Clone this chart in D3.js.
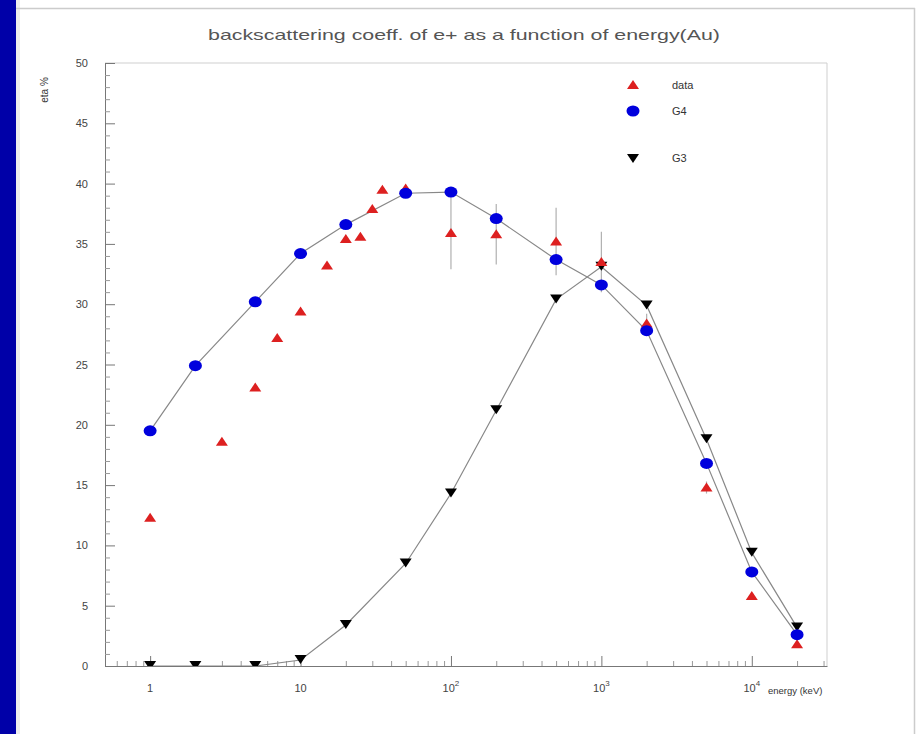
<!DOCTYPE html>
<html><head><meta charset="utf-8">
<script src="https://cdn.jsdelivr.net/npm/d3@7"></script>
<style>
body{margin:0;background:#fff;}
svg{display:block;font-family:"Liberation Sans",Arial,sans-serif;}
</style></head>
<body>
<svg id="c" width="923" height="734"></svg>
<script>
// ---- data ----
const title = "backscattering coeff. of e+ as a function of energy(Au)";
const yLabel = "eta %";
const xLabel = "energy (keV)";
const yTicks = [0,5,10,15,20,25,30,35,40,45,50];
const xTickValues = [1,10,100,1000,10000];
const xTickBase = ["1","10","10","10","10"];
const xTickExp = ["","","2","3","4"];

const dataE   = [1,3,5,7,10,15,20,25,30,35,50,100,200,500,1000,2000,5000,10000,20000];
const dataEta = [12.3,18.6,23.1,27.2,29.4,33.2,35.4,35.6,37.9,39.5,39.6,35.9,35.8,35.2,33.5,28.4,14.8,5.8,1.8];
const dataErr = [0,0,0,0,0,0,0,0,0,0,0,3.0,2.5,2.8,2.5,0.8,0.5,0,0];

const g4E   = [1,2,5,10,20,50,100,200,500,1000,2000,5000,10000,20000];
const g4Eta = [19.5,24.9,30.2,34.2,36.6,39.2,39.3,37.1,33.7,31.6,27.8,16.8,7.8,2.6];

const g3E   = [1,2,5,10,20,50,100,200,500,1000,2000,5000,10000,20000];
const g3Eta = [0,0,0,0.5,3.4,8.5,14.3,21.2,30.4,33.1,29.9,18.8,9.4,3.2];

const legendNames = ["data","G4","G3"];
const legendColors = ["#dd2020","#0000dd","#000000"];

// ---- layout ----
const svg = d3.select("#c");
const L=105, R=827, T=63, B=666;
const x = d3.scaleLog().domain([Math.pow(10,-0.3), Math.pow(10,4.5)]).range([L,R]);
const y = d3.scaleLinear().domain([0,50]).range([B,T]);

// page decoration
svg.append("rect").attr("x",0).attr("y",0).attr("width",16).attr("height",734).attr("fill","#0000a8");
svg.append("rect").attr("x",16).attr("y",0).attr("width",4).attr("height",734).attr("fill","#eeeeee");
svg.append("line").attr("x1",16).attr("x2",915).attr("y1",8.5).attr("y2",8.5).attr("stroke","#cccccc").attr("stroke-width",1.5);
svg.append("line").attr("x1",914.5).attr("x2",914.5).attr("y1",8).attr("y2",734).attr("stroke","#cccccc").attr("stroke-width",1.5);

// title
svg.append("text").attr("x",464).attr("y",40).attr("text-anchor","middle")
  .attr("font-size",14.5).attr("fill","#555").attr("textLength",512).attr("lengthAdjust","spacingAndGlyphs").text(title);

// frame
svg.append("line").attr("x1",L).attr("x2",R).attr("y1",T).attr("y2",T).attr("stroke","#cfcfcf");
svg.append("line").attr("x1",R).attr("x2",R).attr("y1",T).attr("y2",B).attr("stroke","#cfcfcf");

// y axis
const yMinor = d3.range(0,51,1);
const gy = svg.append("g").attr("transform",`translate(${L},0)`)
  .call(d3.axisRight(y).tickValues(yTicks).tickSize(10).tickSizeOuter(0).tickFormat(""));
gy.selectAll("path,line").attr("stroke","#777");
svg.append("g").attr("transform",`translate(${L},0)`)
  .call(d3.axisRight(y).tickValues(yMinor.filter(v=>v%5)).tickSize(5).tickFormat(""))
  .call(g=>g.select("path").remove())
  .selectAll("line").attr("stroke","#999");
svg.append("g").selectAll("text").data(yTicks).join("text")
  .attr("x",88).attr("y",d=>y(d)+4).attr("text-anchor","end")
  .attr("font-size",11).attr("fill","#444").text(d=>d);

// x axis
const gx = svg.append("g").attr("transform",`translate(0,${B})`)
  .call(d3.axisTop(x).tickValues(xTickValues).tickSize(10).tickSizeOuter(0).tickFormat(""));
gx.selectAll("path,line").attr("stroke","#777");
const xMinor = [];
[0.1,1,10,100,1000,10000].forEach(b=>{for(let k=2;k<=9;k++){const v=b*k; if(v>=x.domain()[0]&&v<=x.domain()[1]) xMinor.push(v);}});
svg.append("g").attr("transform",`translate(0,${B})`)
  .call(d3.axisTop(x).tickValues(xMinor).tickSize(5).tickFormat(""))
  .call(g=>g.select("path").remove())
  .selectAll("line").attr("stroke","#999");
const xl = svg.append("g").selectAll("text").data(xTickValues).join("text")
  .attr("x",d=>x(d)).attr("y",692).attr("text-anchor","middle")
  .attr("font-size",11).attr("fill","#444");
xl.append("tspan").text((d,i)=>xTickBase[i]);
xl.append("tspan").attr("dy",-6).attr("font-size",8).text((d,i)=>xTickExp[i]);

// axis titles
svg.append("text").attr("x",768).attr("y",694).attr("font-size",9.5).attr("fill","#333").text(xLabel);
svg.append("text").attr("transform","translate(48,90) rotate(-90)").attr("text-anchor","middle")
  .attr("font-size",10).attr("fill","#333").text(yLabel);

// clip
svg.append("clipPath").attr("id","clip").append("rect").attr("x",L).attr("y",T).attr("width",R-L).attr("height",B-T);
const plot = svg.append("g").attr("clip-path","url(#clip)");

const line = d3.line().x(d=>x(d[0])).y(d=>y(d[1]));
plot.append("path").datum(g4E.map((e,i)=>[e,g4Eta[i]])).attr("d",line).attr("fill","none").attr("stroke","#888").attr("stroke-width",1.2);
plot.append("path").datum(g3E.map((e,i)=>[e,g3Eta[i]])).attr("d",line).attr("fill","none").attr("stroke","#888").attr("stroke-width",1.2);

// error bars
plot.append("g").selectAll("line").data(dataE.map((e,i)=>[e,dataEta[i],dataErr[i]]).filter(d=>d[2]>0)).join("line")
  .attr("x1",d=>x(d[0])).attr("x2",d=>x(d[0])).attr("y1",d=>y(d[1]-d[2])).attr("y2",d=>y(d[1]+d[2]))
  .attr("stroke","#b0b0b0").attr("stroke-width",1.2);

const down = "M-6,-4L6,-4L0,5Z";
const upT = "M0,-5L6,4L-6,4Z";

// G3
plot.append("g").selectAll("path").data(g3E.map((e,i)=>[e,g3Eta[i]])).join("path")
  .attr("transform",d=>`translate(${x(d[0])},${y(d[1])-1})`).attr("d",down).attr("fill","#000");
// data
plot.append("g").selectAll("path").data(dataE.map((e,i)=>[e,dataEta[i]])).join("path")
  .attr("transform",d=>`translate(${x(d[0])},${y(d[1])})`).attr("d",upT).attr("fill","#dd2020");
// G4
plot.append("g").selectAll("ellipse").data(g4E.map((e,i)=>[e,g4Eta[i]])).join("ellipse")
  .attr("cx",d=>x(d[0])).attr("cy",d=>y(d[1])).attr("rx",6.5).attr("ry",5.5).attr("fill","#0000dd");

// legend
const lg = svg.append("g");
const ly = [85,111,158];
lg.append("path").attr("transform",`translate(633,${ly[0]})`).attr("d",upT).attr("fill",legendColors[0]);
lg.append("ellipse").attr("cx",633).attr("cy",ly[1]).attr("rx",6.5).attr("ry",5.5).attr("fill",legendColors[1]);
lg.append("path").attr("transform",`translate(633,${ly[2]})`).attr("d",down).attr("fill",legendColors[2]);
lg.selectAll("text").data(legendNames).join("text").attr("x",672).attr("y",(d,i)=>ly[i]+4)
  .attr("font-size",11).attr("fill","#333").text(d=>d);
</script>
</body></html>
